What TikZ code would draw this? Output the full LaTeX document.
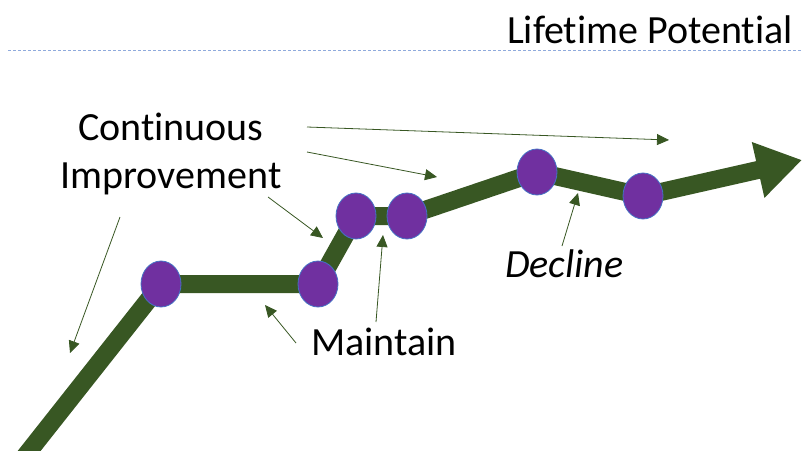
\documentclass[tikz,border=0pt]{standalone}
\usepackage{fontspec}
\setmainfont{Carlito}[Ligatures=NoCommon]
\usetikzlibrary{shapes.geometric,arrows.meta}
\definecolor{trunk}{HTML}{385723}
\definecolor{plum}{HTML}{7030A0}
\definecolor{rim}{HTML}{4472C4}
\definecolor{rule}{HTML}{8FAADC}
\begin{document}
\begin{tikzpicture}[x=1pt,y=1pt]
\tikzstyle{every node}+=[inner sep=0pt]
\tikzstyle{dot}=[ellipse,fill=plum,draw=rim,line width=0.8pt,minimum width=40pt,minimum height=46pt]
\tikzstyle{pointer}=[trunk,line width=0.8pt,-{Triangle[length=12pt,width=11pt]}]
\tikzstyle{big}=[font=\fontsize{40}{48}\selectfont]
\useasboundingbox (0,0) rectangle (802,-450);
\clip (0,0) rectangle (802,-450);
\draw [rule,line width=0.9pt,dash pattern=on 3pt off 2pt] (8,-50) -- (802,-50);
\node [big,anchor=base east] (life) at (793,-43) {Lifetime Potential};
% points on the growth line
\coordinate (c0) at (22,-460);
\coordinate (c1) at (161,-284);
\coordinate (c2) at (318,-284);
\coordinate (c3) at (356,-216);
\coordinate (c4) at (407,-216);
\coordinate (c5) at (537,-172);
\coordinate (c6) at (643,-196);
\coordinate (tip) at (802,-160);
\draw [trunk,line width=18pt,line join=round,-{Triangle[length=45pt 0,width=54pt 0]}] (c0) -- (c1) -- (c2) -- (c3) -- (c4) -- (c5) -- (c6) -- (tip);
\node [dot] (p1) at (c1) {};
\node [dot] (p2) at (c2) {};
\node [dot] (p3) at (c3) {};
\node [dot] (p4) at (c4) {};
\node [dot] (p5) at (c5) {};
\node [dot] (p6) at (c6) {};
% labels
\node [big,align=center,anchor=base] (ci) at (171,-188) {Continuous\\Improvement};
\node [big,anchor=base west] (mt) at (311,-355) {Maintain};
\node [big,anchor=base west,font=\fontsize{40}{48}\selectfont\itshape] (dc) at (505,-277) {Decline};
% pointers
\coordinate (s1) at (120,-217);
\coordinate (e1) at (70,-353);
\coordinate (s2) at (268,-197);
\coordinate (e2) at (323,-238);
\coordinate (s3) at (307,-152);
\coordinate (e3) at (437,-177);
\coordinate (s4) at (307,-127);
\coordinate (e4) at (669,-140);
\coordinate (s5) at (296,-343);
\coordinate (e5) at (265,-305);
\coordinate (s6) at (376,-322);
\coordinate (e6) at (383,-235);
\coordinate (s7) at (562,-246);
\coordinate (e7) at (578,-193);
\draw [pointer] (s1) -- (e1);
\draw [pointer] (s2) -- (e2);
\draw [pointer] (s3) -- (e3);
\draw [pointer] (s4) -- (e4);
\draw [pointer] (s5) -- (e5);
\draw [pointer] (s6) -- (e6);
\draw [pointer] (s7) -- (e7);
\end{tikzpicture}
\end{document}
